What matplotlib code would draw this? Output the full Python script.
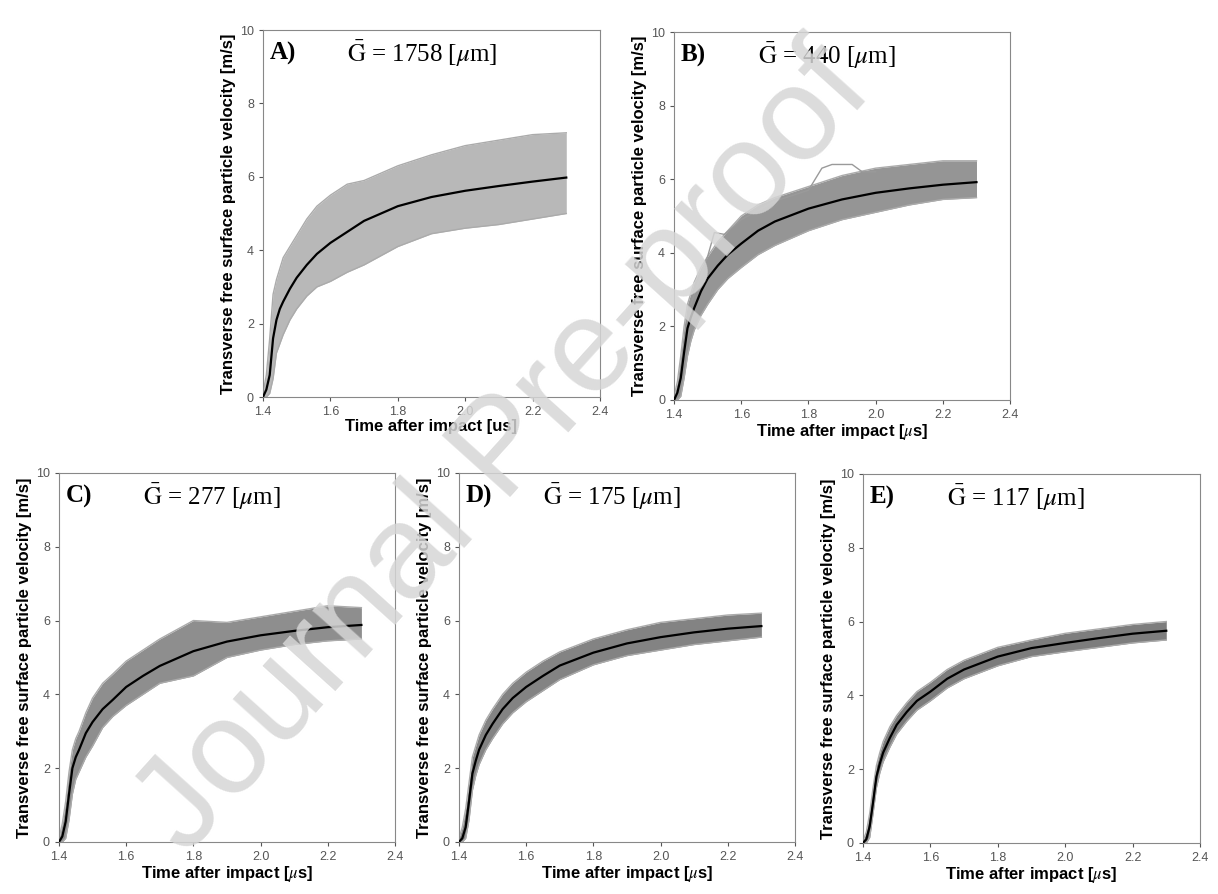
import numpy as np
import matplotlib
matplotlib.use("Agg")
import matplotlib.pyplot as plt

plt.rcParams['mathtext.fontset'] = 'stix'
plt.rcParams['font.family'] = ['Liberation Sans', 'DejaVu Sans']

# time samples [us]
t = [1.40, 1.41, 1.42, 1.43, 1.44, 1.45, 1.46, 1.48, 1.50, 1.53,
     1.56, 1.60, 1.65, 1.70, 1.80, 1.90, 2.00, 2.10, 2.20, 2.30]

# panel labels / grain size
panels = ["A)", "B)", "C)", "D)", "E)"]
grain = [1758, 440, 277, 175, 117]

# mean curves (black)
mean_a = [0, 0.2, 0.6, 1.6, 2.1, 2.4, 2.6, 2.95, 3.25, 3.6, 3.9, 4.2, 4.5, 4.8, 5.2, 5.45, 5.62, 5.75, 5.87, 5.98]
mean_b = [0, 0.2, 0.6, 1.3, 1.95, 2.25, 2.5, 2.95, 3.3, 3.65, 3.95, 4.25, 4.6, 4.85, 5.2, 5.45, 5.63, 5.75, 5.85, 5.92]
mean_c = [0, 0.15, 0.55, 1.3, 2.0, 2.3, 2.5, 2.95, 3.25, 3.6, 3.85, 4.2, 4.5, 4.77, 5.17, 5.43, 5.6, 5.72, 5.82, 5.88]
mean_d = [0, 0.1, 0.4, 1.1, 1.85, 2.2, 2.5, 2.9, 3.2, 3.6, 3.9, 4.2, 4.5, 4.78, 5.13, 5.38, 5.55, 5.68, 5.78, 5.85]
mean_e = [0, 0.1, 0.45, 1.1, 1.8, 2.15, 2.45, 2.85, 3.2, 3.55, 3.85, 4.1, 4.45, 4.7, 5.05, 5.28, 5.42, 5.55, 5.67, 5.75]

# spread of the individual measurements (upper / lower envelope)
up_a = [0.1, 0.6, 1.6, 2.8, 3.2, 3.5, 3.8, 4.1, 4.4, 4.85, 5.2, 5.5, 5.8, 5.9, 6.3, 6.6, 6.85, 7.0, 7.15, 7.2]
lo_a = [0, 0, 0.1, 0.5, 1.2, 1.45, 1.7, 2.1, 2.4, 2.75, 3.0, 3.15, 3.4, 3.6, 4.1, 4.45, 4.6, 4.7, 4.85, 5.0]
up_b = [0.1, 0.5, 1.2, 2.0, 2.6, 2.9, 3.2, 3.6, 3.9, 4.3, 4.6, 5.0, 5.3, 5.5, 5.8, 6.1, 6.3, 6.4, 6.5, 6.5]
lo_b = [0, 0, 0.1, 0.6, 1.2, 1.6, 1.9, 2.3, 2.6, 3.0, 3.3, 3.6, 3.95, 4.2, 4.6, 4.9, 5.1, 5.3, 5.45, 5.5]
up_c = [0.1, 0.5, 1.1, 1.9, 2.5, 2.8, 3.0, 3.5, 3.9, 4.3, 4.55, 4.9, 5.2, 5.5, 6.0, 5.95, 6.1, 6.25, 6.4, 6.35]
lo_c = [0, 0, 0.1, 0.6, 1.3, 1.7, 1.9, 2.3, 2.6, 3.1, 3.4, 3.7, 4.0, 4.3, 4.5, 5.0, 5.2, 5.35, 5.45, 5.5]
up_d = [0.1, 0.4, 0.9, 1.6, 2.3, 2.6, 2.9, 3.3, 3.6, 4.0, 4.3, 4.6, 4.9, 5.15, 5.5, 5.75, 5.95, 6.05, 6.15, 6.2]
lo_d = [0, 0, 0.1, 0.6, 1.4, 1.8, 2.1, 2.5, 2.8, 3.2, 3.5, 3.8, 4.1, 4.4, 4.8, 5.05, 5.2, 5.35, 5.45, 5.55]
up_e = [0.05, 0.3, 0.8, 1.5, 2.1, 2.45, 2.75, 3.15, 3.45, 3.8, 4.1, 4.35, 4.7, 4.95, 5.3, 5.5, 5.68, 5.8, 5.92, 6.0]
lo_e = [0, 0, 0.15, 0.8, 1.5, 1.9, 2.2, 2.6, 2.95, 3.3, 3.6, 3.85, 4.2, 4.45, 4.8, 5.05, 5.18, 5.3, 5.42, 5.5]

# single outlier trace in panel B
t_out_b = [1.45, 1.50, 1.52, 1.55, 1.60, 1.70, 1.80, 1.84, 1.87, 1.93, 1.96, 2.00]
v_out_b = [2.6, 3.9, 4.55, 4.5, 4.9, 5.4, 5.7, 6.3, 6.4, 6.4, 6.2, 6.2]

means = [mean_a, mean_b, mean_c, mean_d, mean_e]
ups = [up_a, up_b, up_c, up_d, up_e]
los = [lo_a, lo_b, lo_c, lo_d, lo_e]
xlabels = ["Time after impact [us]"] + [r"Time after impact [$\mu$s]"] * 4
band_colors = ["#b8b8b8", "#959595", "#8e8e8e", "#838383", "#7d7d7d"]

rects = [
    [0.2159, 0.5559, 0.2767, 0.4105],
    [0.5534, 0.5526, 0.2759, 0.4116],
    [0.0484, 0.0582, 0.2759, 0.4128],
    [0.3768, 0.0582, 0.2759, 0.4128],
    [0.7085, 0.0571, 0.2767, 0.4128],
]

fig = plt.figure(figsize=(12.18, 8.94), dpi=100)

for i in range(5):
    ax = fig.add_axes(rects[i])
    ax.fill_between(t, los[i], ups[i], color=band_colors[i], lw=0, zorder=1)
    ax.plot(t, ups[i], color="#ababab", lw=1, zorder=2)
    ax.plot(t, los[i], color="#ababab", lw=1, zorder=2)
    if i == 1:
        ax.plot(t_out_b, v_out_b, color="#9a9a9a", lw=1, zorder=2)
    ax.plot(t, means[i], color="black", lw=1.6, zorder=3)

    ax.set_xlim(1.4, 2.4)
    ax.set_ylim(0, 10)
    ax.set_xticks([1.4, 1.6, 1.8, 2.0, 2.2, 2.4])
    ax.set_xticklabels(["1.4", "1.6", "1.8", "2.0", "2.2", "2.4"])
    ax.set_yticks([0, 2, 4, 6, 8, 10])
    ax.tick_params(labelsize=9, colors="#555555", length=3)
    for s in ax.spines.values():
        s.set_color("#888888")
    ax.set_xlabel(xlabels[i], fontsize=12, fontweight="bold", labelpad=1)
    ax.set_ylabel("Transverse free surface particle velocity [m/s]",
                  fontsize=12, fontweight="bold", labelpad=3)

    ax.text(0.02, 0.935, panels[i], transform=ax.transAxes, fontsize=18,
            fontweight="bold", family="Liberation Serif", va="center")
    ax.text(0.25, 0.935, r"$\bar{\mathrm{G}}$ = %d [$\mu$m]" % grain[i],
            transform=ax.transAxes, fontsize=18, family="Liberation Serif",
            va="center")

# watermark
fig.text(0.415, 0.495, "Journal Pre-proof", fontsize=96, color="#d6d6d6",
         rotation=48, ha="center", va="center", alpha=0.85, zorder=10,
         family="Liberation Sans")

fig.savefig("out.png", dpi=100)
